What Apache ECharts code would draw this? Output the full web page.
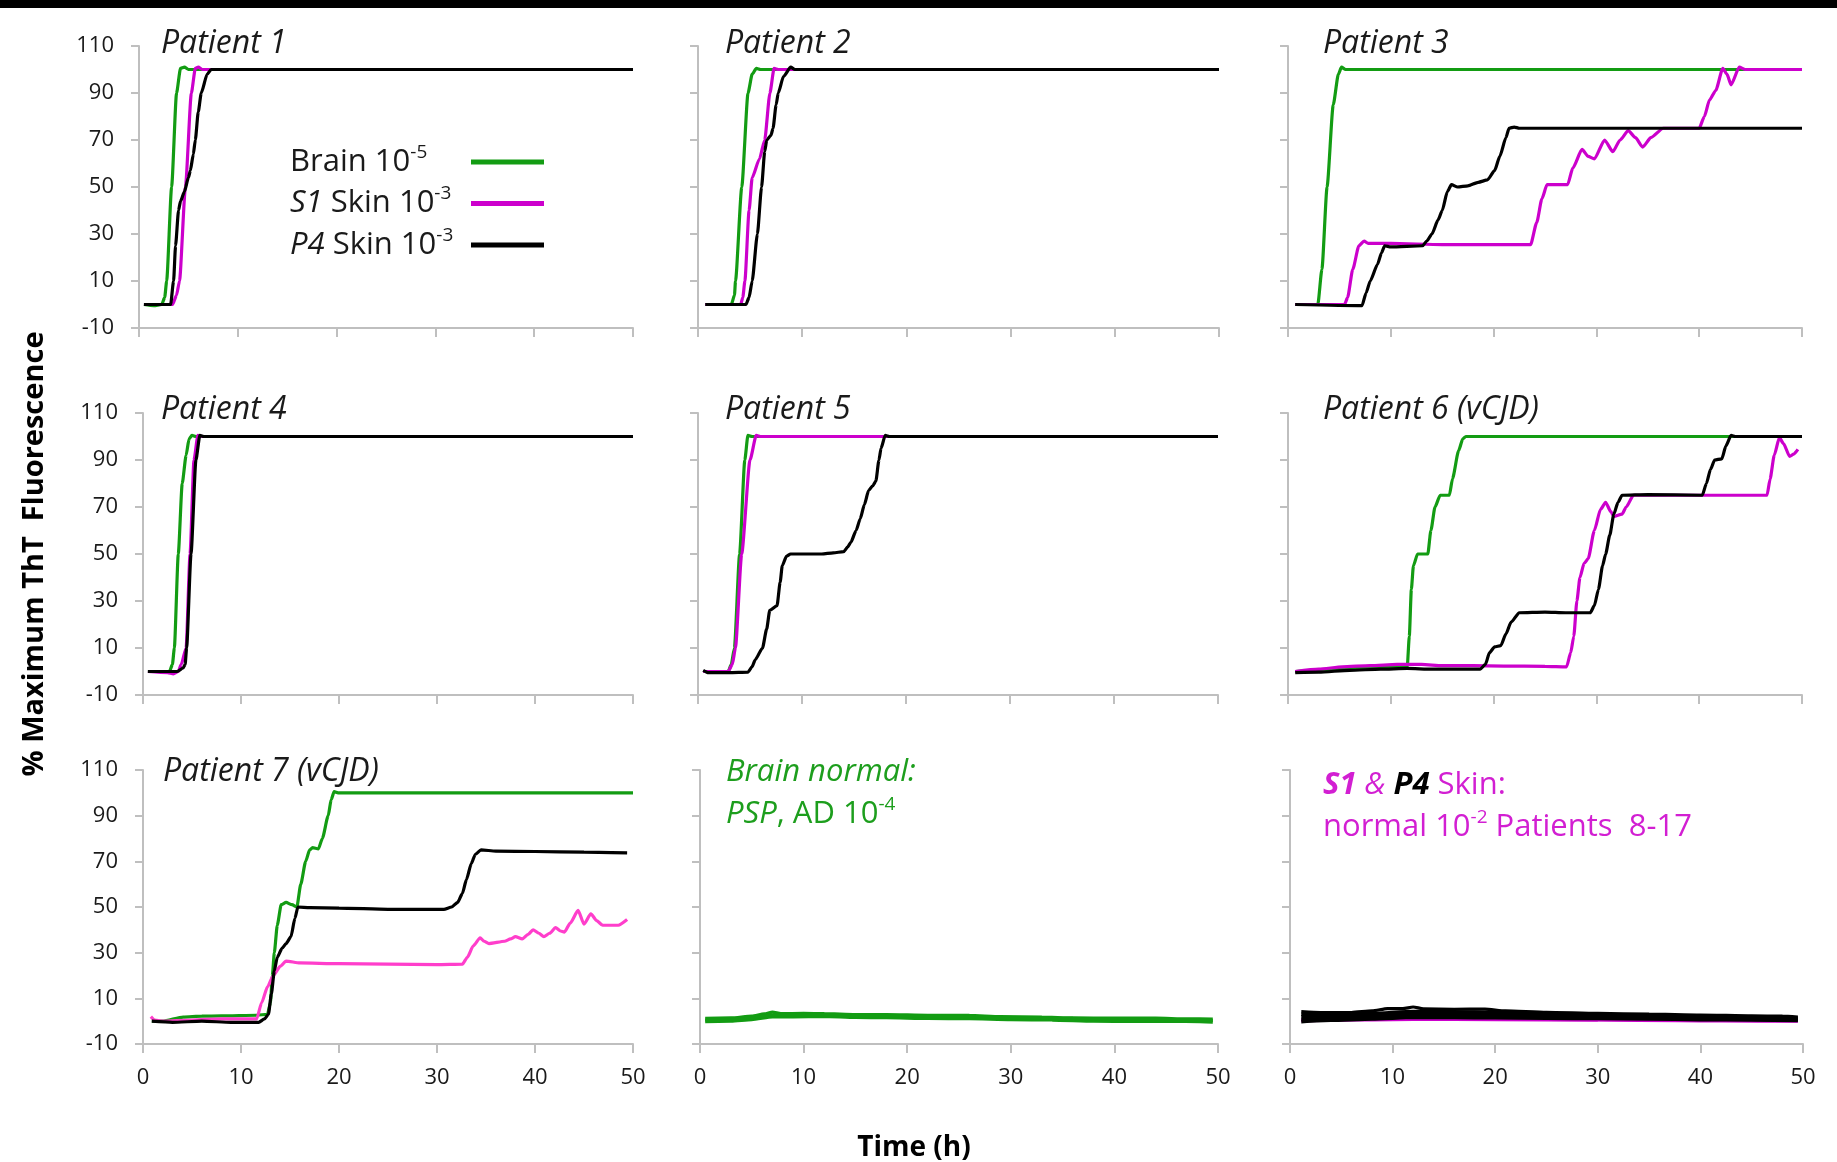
<!DOCTYPE html>
<html><head><meta charset="utf-8">
<script src="https://cdn.jsdelivr.net/npm/echarts@6/dist/echarts.min.js"></script>
<style>html,body{margin:0;padding:0;background:#fff}#c{width:1837px;height:1162px}</style>
</head><body><div id="c"></div>
<script>
// ---------- tick labels ----------
const xTicks = [0, 10, 20, 30, 40, 50];
const yTicks = [-10, 10, 30, 50, 70, 90, 110];

// ---------- Patient 1 ----------
const p1Brain = [[0.5,0],[1.5,-0.5],[2.3,0],[2.6,3],[2.8,10],[3.3,50],[3.8,90],[4.2,100.5],[4.6,101],[5,100],[50,100]];
const p1S1 = [[0.5,0],[3.4,0],[3.8,4],[4.1,10],[4.7,50],[5.3,90],[5.7,100.5],[6,101],[6.4,100],[50,100]];
const p1P4 = [[0.5,0],[3.2,0],[3.5,10],[3.7,25],[4.0,40],[4.2,44],[4.6,48],[5.0,54],[5.2,57],[5.5,64],[5.7,70],[6.0,82],[6.3,90],[6.9,98],[7.3,100],[50,100]];
// ---------- Patient 2 ----------
const p2Brain = [[0.7,0],[3.2,0],[3.5,4],[3.6,10],[4.2,50],[4.8,90],[5.2,98],[5.6,100.5],[6,100],[50,100]];
const p2S1 = [[0.7,0],[4.1,0],[4.3,3],[4.5,10],[4.9,40],[5.2,54],[5.9,62],[6.4,70],[6.9,90],[7.3,100.5],[7.7,100],[50,100]];
const p2P4 = [[0.7,0],[4.6,0],[4.9,3],[5.2,10],[5.7,30],[6.1,50],[6.4,65],[6.6,70],[7.0,72],[7.2,75],[7.5,85],[7.7,90],[8.2,97],[8.9,101],[9.3,100],[50,100]];
// ---------- Patient 3 ----------
const p3Brain = [[0.7,0],[2.9,0],[3.3,15],[3.8,50],[4.4,85],[4.9,98],[5.2,101],[5.6,100],[50,100]];
const p3S1 = [[0.7,0],[5.5,0],[5.8,3],[6.3,15],[6.9,25],[7.4,27],[7.8,26],[10,26],[15,25.5],[20,25.5],[23.6,25.5],[24.2,35],[24.7,45],[25.2,51],[27.2,51],[27.7,58],[28.6,66],[29.2,63],[29.8,62],[30.8,70],[31.6,65],[32.3,70],[33.1,74],[33.8,71],[34.5,67],[35.3,71],[36.5,75],[40,75],[40.5,80],[41,87],[41.6,91],[42.3,100.5],[42.7,98],[43.1,93.5],[43.9,101],[44.5,100],[50,100]];
const p3P4 = [[0.7,0],[7.2,-0.5],[7.6,5],[8,10],[8.7,17],[9.1,22],[9.4,25],[10,24.5],[13.1,25],[13.5,27],[14,30],[14.6,36],[15,40],[15.5,48],[15.9,51],[16.5,50],[17.5,50.5],[18.5,52],[19.4,53],[20.1,57],[20.6,63],[21.2,71],[21.5,75],[22,75.5],[22.5,75],[50,75]];
// ---------- Patient 4 ----------
const p4Brain = [[0.5,0],[2.7,0],[3.0,3],[3.2,10],[3.6,50],[4.0,80],[4.4,92],[4.7,99],[5.0,100.5],[5.4,100],[50,100]];
const p4S1 = [[0.5,0],[2.5,-0.5],[3.1,-1],[3.6,0],[3.9,3],[4.4,10],[4.8,50],[5.2,90],[5.6,100.5],[6,100],[50,100]];
const p4P4 = [[0.5,0],[3.5,0],[4.1,1.5],[4.3,3],[4.45,10],[4.9,50],[5.4,90],[5.8,100.5],[6.2,100],[50,100]];
// ---------- Patient 5 ----------
const p5Brain = [[0.5,0],[2.9,0],[3.2,3],[3.5,10],[4.0,50],[4.5,90],[4.8,100.5],[5.2,100],[50,100]];
const p5S1 = [[0.5,0],[2.9,0],[3.3,3],[3.6,10],[4.2,50],[5.0,90],[5.6,100.5],[6,100],[50,100]];
const p5P4 = [[0.5,0.5],[1,-0.5],[3,-0.5],[4.8,-0.3],[5.2,2],[5.5,5],[6.2,10],[6.6,18],[6.9,26],[7.6,28],[7.9,38],[8.1,45],[8.5,49],[8.9,50],[10,50],[11.9,50],[13,50.5],[14,51],[14.4,53],[14.7,55],[15.2,60],[15.6,65],[16.0,71],[16.4,77],[16.8,79],[17.1,81],[17.4,90],[17.6,95],[18.0,100.5],[18.4,100],[50,100]];
// ---------- Patient 6 (vCJD) ----------
const p6Brain = [[0.7,0],[5,1],[8,1.5],[11.6,2],[11.8,15],[12.0,35],[12.2,45],[12.6,50],[13.6,50],[13.9,60],[14.3,70],[14.8,75],[15.7,75],[16.0,82],[16.6,94],[17.0,99],[17.3,100],[50,100]];
const p6S1 = [[0.7,0],[3,1],[5.3,2],[8,2.5],[10.6,3],[13,3],[15,2.5],[18,2.5],[21,2.3],[25,2.2],[27.1,2],[27.5,8],[27.8,15],[28.1,30],[28.4,40],[28.8,46],[29.2,48],[29.8,60],[30.4,69],[30.9,72],[31.4,68],[31.7,66],[32.5,67],[32.9,70],[33.6,75],[35,75],[40,75],[46.6,75],[46.9,82],[47.3,92],[47.8,99.5],[48.2,97],[48.8,91.5],[49.2,92.5],[49.6,94.5]];
const p6P4 = [[0.7,-0.5],[3,-0.3],[6,0.5],[9,1],[11.6,1.3],[14,1],[16,1],[18.7,1],[19.2,3],[19.6,8],[20.1,10.5],[20.7,11],[21.2,16],[21.7,21],[22.5,25],[25,25.3],[27,25],[29.4,25],[29.8,28],[30.2,35],[30.6,45],[30.9,50],[31.3,58],[31.7,67],[32.1,72],[32.5,75],[35,75.3],[40.3,75],[40.7,80],[41.1,86],[41.5,90],[42.2,90.5],[42.6,96],[43.1,100.5],[43.5,100],[50,100]];
// ---------- Patient 7 (vCJD) ----------
const p7Brain = [[0.9,0],[2,0],[4.1,1.8],[6,2.2],[8,2.3],[11.6,2.6],[12.7,3],[13.0,8],[13.2,20],[13.4,30],[13.7,42],[14.1,51],[14.6,52],[15.2,51],[15.7,50],[16.1,60],[16.6,70],[17.0,75],[17.3,76],[17.9,75.5],[18.3,80],[18.9,90],[19.2,97],[19.5,100.5],[19.9,100],[50,100]];
const p7S1 = [[0.8,2],[1.2,0.5],[2,0],[5,0.5],[8,1],[11.6,1],[12.1,8],[12.7,15],[13.3,20],[14,24],[14.6,26.3],[16,25.5],[20,25.2],[25,25],[30,24.8],[32.6,25],[33.1,28],[33.7,33],[34.4,36.5],[34.8,35],[35.3,34],[36.9,35],[37.5,36],[38,37],[38.7,36],[39.3,38],[39.8,40],[40.4,38.5],[40.9,37],[41.5,38.5],[42.1,41],[42.6,39.5],[43,39],[43.6,43],[44.4,48.5],[45,42.5],[45.7,47],[46.3,44],[46.9,42],[48.5,42],[49.4,44.5]];
const p7P4 = [[0.9,0],[3,-0.5],[6,0],[9,-0.5],[11.8,-0.5],[12.4,1],[12.8,3],[13.1,12],[13.4,22],[13.7,28],[14.2,32],[14.6,34],[15.1,37],[15.5,45],[15.8,50],[17,49.7],[20,49.5],[25,49],[30.7,49],[31.5,50],[32.1,52],[32.6,56],[33,62],[33.5,69],[33.9,73],[34.5,75],[36,74.5],[40,74.3],[45,74],[49.4,73.7]];
// ---------- Brain normal: PSP, AD ----------
const n8a = [[0.5,1.2],[3,1.4],[5,2.2],[6.2,3.2],[7,4.0],[7.8,3.3],[10,3.4],[12,3.3],[15,2.9],[18,2.9],[22,2.6],[26,2.5],[29,2.0],[33,1.8],[36,1.4],[40,1.3],[44,1.3],[47,1.0],[49.5,0.9]];
const n8b = [[0.5,-0.2],[3,0],[5,0.7],[7,1.9],[9,1.9],[12,2.1],[15,1.6],[18,1.5],[22,1.2],[26,1.1],[30,0.7],[34,0.5],[38,0.0],[42,-0.1],[46,0.0],[49.5,-0.4]];
const n8c = [[0.5,0.5],[3,0.6],[5,1.3],[7,2.8],[9,2.6],[12,2.7],[15,2.2],[20,2.2],[24,2.0],[28,1.6],[32,1.3],[36,1.2],[40,0.7],[44,0.6],[49.5,0.3]];
// ---------- S1 & P4 skin normal ----------
const s9m1 = [[1.1,0.2],[5,0.4],[8,0.6],[12,0.8],[20,0.7],[30,0.5],[38,0.2],[42,0.1],[49.5,0]];
const s9m2 = [[1.1,0.5],[5,0.8],[10,1.0],[20,0.9],[30,0.7],[40,0.4],[49.5,0.2]];
const s9k1 = [[1.1,4.2],[3,3.8],[6,3.8],[8,4.5],[9.5,5.5],[11,5.5],[12,6.2],[13,5.4],[16,5.2],[19,5.3],[21,4.5],[25,3.9],[30,3.4],[35,3.1],[40,2.7],[45,2.3],[48,2.2],[49.5,1.8]];
const s9k2 = [[1.1,3],[4,3.2],[8,3.5],[12,4.3],[16,4.2],[20,3.9],[25,3.2],[30,2.8],[35,2.5],[40,2.1],[45,1.7],[49.5,1.3]];
const s9k3 = [[1.1,2],[4,2.3],[8,2.6],[12,3.3],[16,3.2],[20,3.0],[25,2.5],[30,2.2],[35,1.9],[40,1.5],[45,1.2],[49.5,0.8]];
const s9k4 = [[1.1,0.8],[4,1.3],[8,1.7],[12,2.4],[16,2.3],[20,2.1],[25,1.8],[30,1.6],[35,1.3],[40,1.0],[45,0.8],[49.5,0.5]];
const s9k5 = [[1.1,-0.3],[4,0.3],[8,0.9],[12,1.6],[16,1.5],[20,1.4],[25,1.2],[30,1.1],[35,0.9],[40,0.6],[45,0.4],[49.5,0.2]];

// ---------- styling / layout ----------
const FONT = "'Open Sans', 'Noto Sans', sans-serif";
const GREEN = '#139c13', MAG = '#cc00cc', PINK = '#ff3ecb', BLACK = '#000000';
const AXIS = '#bfbfbf', TXT = '#1a1a1a';
const TGREEN = '#1d9e1d', TMAG = '#d21fd2';

const panels = [
  {lines: [[p1Brain,'Brain',GREEN],[p1S1,'S1',MAG],[p1P4,'P4',BLACK]]},
  {lines: [[p2Brain,'Brain',GREEN],[p2S1,'S1',MAG],[p2P4,'P4',BLACK]]},
  {lines: [[p3Brain,'Brain',GREEN],[p3S1,'S1',MAG],[p3P4,'P4',BLACK]]},
  {lines: [[p4Brain,'Brain',GREEN],[p4S1,'S1',MAG],[p4P4,'P4',BLACK]]},
  {lines: [[p5Brain,'Brain',GREEN],[p5S1,'S1',MAG],[p5P4,'P4',BLACK]]},
  {lines: [[p6Brain,'Brain',GREEN],[p6S1,'S1',MAG],[p6P4,'P4',BLACK]]},
  {lines: [[p7Brain,'Brain',GREEN],[p7S1,'S1 ',PINK],[p7P4,'P4',BLACK]]},
  {lines: [[n8a,'Normal brain a',GREEN],[n8b,'Normal brain b',GREEN],[n8c,'Normal brain c',GREEN]]},
  {lines: [[s9m1,'Normal S1 a',MAG],[s9m2,'Normal S1 b',MAG],[s9k1,'Normal P4 a',BLACK],[s9k2,'Normal P4 b',BLACK],[s9k3,'Normal P4 c',BLACK],[s9k4,'Normal P4 d',BLACK],[s9k5,'Normal P4 e',BLACK]]}
];

const gridBoxes = [
  {left:139, top:46, width:494, height:282},
  {left:698, top:46, width:521, height:282},
  {left:1288, top:46, width:514, height:282},
  {left:143, top:413, width:490, height:282},
  {left:698, top:413, width:520, height:282},
  {left:1288, top:413, width:514, height:282},
  {left:143, top:770, width:490, height:274},
  {left:700, top:770, width:518, height:274},
  {left:1290, top:770, width:513, height:274}
];

const grids = [], xAxes = [], yAxes = [], series = [];
gridBoxes.forEach((g, i) => {
  grids.push(Object.assign({containLabel:false}, g));
  const row = Math.floor(i / 3), col = i % 3;
  xAxes.push({
    type:'value', gridIndex:i, min:xTicks[0], max:xTicks[xTicks.length-1], interval:10,
    axisLine:{show:true, onZero:false, lineStyle:{color:AXIS, width:2}},
    axisTick:{show:true, length:9, lineStyle:{color:AXIS, width:2}},
    splitLine:{show:false},
    axisLabel:{show: row === 2, margin:23, fontFamily:FONT, fontSize:22, color:TXT}
  });
  yAxes.push({
    type:'value', gridIndex:i, min:yTicks[0], max:yTicks[yTicks.length-1],
    axisLine:{show:true, onZero:false, lineStyle:{color:AXIS, width:2}},
    axisTick:{show:true, length:8, customValues:yTicks, lineStyle:{color:AXIS, width:2}},
    splitLine:{show:false},
    axisLabel:{show: col === 0, customValues:yTicks, margin:25, fontFamily:FONT, fontSize:22, color:TXT}
  });
  panels[i].lines.forEach(([data, name, color]) => {
    series.push({
      type:'line', name, xAxisIndex:i, yAxisIndex:i, data,
      symbol:'none', showSymbol:false, smooth:0.2, smoothMonotone:'x',
      lineStyle:{color, width:3.2}, itemStyle:{color}, emphasis:{disabled:true}, silent:true
    });
  });
});

const supRich = {
  n:{fontFamily:FONT, fontSize:31, color:TXT, lineHeight:38, align:'left'},
  i:{fontFamily:FONT, fontSize:31, fontStyle:'italic', color:TXT, lineHeight:38, align:'left'},
  s:{fontFamily:FONT, fontSize:19, color:TXT, verticalAlign:'top', lineHeight:24, align:'left'}
};
const legendText = {
  'Brain':'{n|Brain 10}{s|-5}',
  'S1':'{i|S1}{n| Skin 10}{s|-3}',
  'P4':'{i|P4}{n| Skin 10}{s|-3}'
};

function label(x, y, text, rich) {
  return {type:'text', x, y, silent:true,
    style:{text, rich, align:'left', verticalAlign:'middle', fontFamily:FONT, fontSize:31}};
}
const titleRich = {t:{fontFamily:FONT, fontSize:32, fontStyle:'italic', fill:TXT}};
const gRich = {
  gi:{fontFamily:FONT, fontSize:31, fontStyle:'italic', fill:TGREEN, lineHeight:38},
  gn:{fontFamily:FONT, fontSize:31, fill:TGREEN, lineHeight:38},
  gs:{fontFamily:FONT, fontSize:19, fill:TGREEN, verticalAlign:'top', lineHeight:24}
};
const mRich = {
  mb:{fontFamily:FONT, fontSize:31, fontStyle:'italic', fontWeight:'bold', fill:TMAG, lineHeight:38},
  mi:{fontFamily:FONT, fontSize:31, fontStyle:'italic', fill:TMAG, lineHeight:38},
  kb:{fontFamily:FONT, fontSize:31, fontStyle:'italic', fontWeight:'bold', fill:'#000', lineHeight:38},
  mn:{fontFamily:FONT, fontSize:31, fill:TMAG, lineHeight:38},
  ms:{fontFamily:FONT, fontSize:19, fill:TMAG, verticalAlign:'top', lineHeight:24}
};

const graphics = [
  {type:'rect', shape:{x:0, y:0, width:1837, height:8}, style:{fill:'#000'}, silent:true},
  label(161, 44, '{t|Patient 1}', titleRich),
  label(725, 44, '{t|Patient 2}', titleRich),
  label(1323, 44, '{t|Patient 3}', titleRich),
  label(161, 410, '{t|Patient 4}', titleRich),
  label(725, 410, '{t|Patient 5}', titleRich),
  label(1323, 410, '{t|Patient 6 (vCJD)}', titleRich),
  label(163, 772, '{t|Patient 7 (vCJD)}', titleRich),
  label(726, 772, '{gi|Brain normal:}', gRich),
  label(726, 814, '{gi|PSP}{gn|, AD 10}{gs|-4}', gRich),
  label(1323, 785, '{mb|S1}{mi| & }{kb|P4}{mn| Skin:}', mRich),
  label(1323, 827, '{mn|normal 10}{ms|-2}{mn| Patients  8-17}', mRich),
  {type:'text', x:35, y:554, rotation:Math.PI/2, silent:true,
   style:{text:'% Maximum ThT  Fluorescence', align:'center', verticalAlign:'middle',
          fontFamily:FONT, fontSize:29, fontWeight:'bold', fill:'#000'}},
  {type:'text', x:914, y:1148, silent:true,
   style:{text:'Time (h)', align:'center', verticalAlign:'middle',
          fontFamily:FONT, fontSize:28, fontWeight:'bold', fill:'#000'}}
];

const chart = echarts.init(document.getElementById('c'), null, {renderer:'canvas'});
chart.setOption({
  backgroundColor:'#ffffff',
  animation:false,
  grid:grids, xAxis:xAxes, yAxis:yAxes, series,
  legend:{
    data:['Brain','S1','P4'], orient:'vertical', left:290, top:143, align:'right',
    icon:'rect', itemWidth:73, itemHeight:5, itemGap:7, selectedMode:false,
    padding:0,
    formatter:(n) => legendText[n],
    textStyle:{width:176, fontFamily:FONT, fontSize:31, color:TXT, rich:supRich}
  },
  graphic:graphics
});
</script></body></html>
